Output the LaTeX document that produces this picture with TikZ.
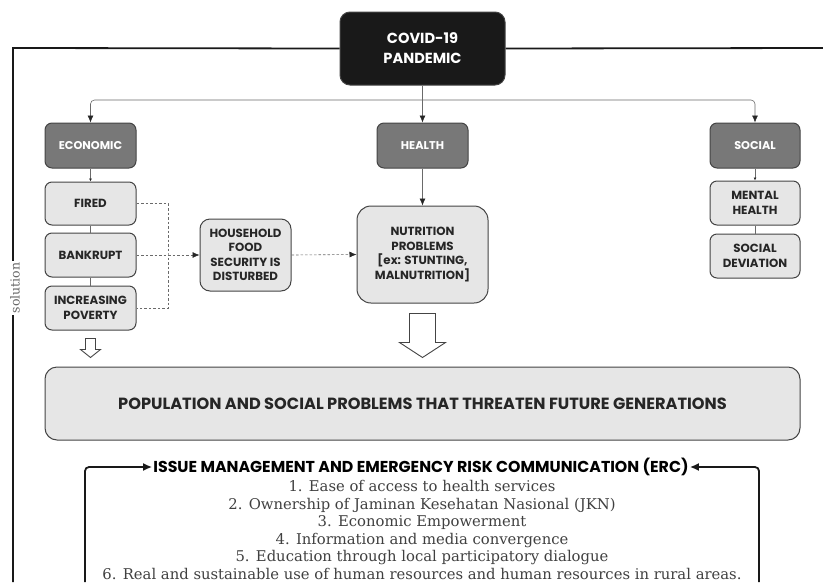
\documentclass[tikz,border=0pt]{standalone}
\usepackage{fontspec}
\usepackage{xcolor}
\usetikzlibrary{arrows.meta, calc}
\newfontfamily\boxfont{Poppins}
\newfontfamily\listfont{DejaVu Serif}
\definecolor{boxline}{HTML}{444444}
\definecolor{catfill}{HTML}{787878}
\definecolor{lightfill}{HTML}{E6E6E6}
\definecolor{linkgray}{HTML}{6A6A6A}

\begin{document}
\begin{tikzpicture}[x=1pt, y=-1pt,
  box/.style={draw=boxline, line width=1pt, rounded corners=7pt, fill=lightfill,
    text=black!85, align=center, inner sep=1pt,
    font=\boxfont\bfseries\fontsize{11.8}{14.4}\selectfont},
  catbox/.style={box, fill=catfill, text=white, font=\boxfont\bfseries\fontsize{11.3}{14}\selectfont},
  link/.style={draw=linkgray, line width=0.6pt},
  dotlink/.style={link, dash pattern=on 2.5pt off 2pt},
  tip/.style={-{Latex[length=7pt, width=6pt, color=black!85]}},
  hollow/.style={draw=boxline, line width=0.9pt, fill=white},
  bigline/.style={draw=black!90, line width=1.8pt}]
\useasboundingbox (0,0) rectangle (823,582);

% top of the chart
\node[box, fill=black!90, text=white, minimum width=165pt, minimum height=73pt,
  rounded corners=10pt, font=\boxfont\bfseries\fontsize{14.6}{20}\selectfont]
  (covid) at (422.5,48.5) {COVID-19\\PANDEMIC};

\node[catbox, minimum width=91pt, minimum height=45pt] (econ) at (90.5,145.5) {ECONOMIC};
\node[catbox, minimum width=91pt, minimum height=45pt] (health) at (422.5,145.5) {HEALTH};
\node[catbox, minimum width=90pt, minimum height=45pt] (social) at (755,145.5) {SOCIAL};

% economic column
\node[box, minimum width=91pt, minimum height=43pt] (fired) at (90.5,203.5) {FIRED};
\node[box, minimum width=91pt, minimum height=44pt] (bankrupt) at (90.5,255) {BANKRUPT};
\node[box, minimum width=91pt, minimum height=44pt] (poverty) at (90.5,308) {INCREASING\\POVERTY};
\node[box, minimum width=91pt, minimum height=72pt, rounded corners=10pt] (food) at (245.5,255)
  {HOUSEHOLD\\FOOD\\SECURITY IS\\DISTURBED};
\node[box, minimum width=131pt, minimum height=97pt, rounded corners=14pt,
  font=\boxfont\bfseries\fontsize{11.8}{14.7}\selectfont] (nutri) at (422.5,254.5)
  {NUTRITION\\PROBLEMS\\{[}ex: STUNTING,\\MALNUTRITION{]}};

% social column
\node[box, minimum width=90pt, minimum height=44pt] (mental) at (755,203) {MENTAL\\HEALTH};
\node[box, minimum width=90pt, minimum height=44pt] (deviation) at (755,256) {SOCIAL\\DEVIATION};

\node[box, minimum width=755pt, minimum height=73pt, rounded corners=12pt,
  font=\boxfont\bfseries\fontsize{16.2}{19}\selectfont] (popu) at (422.5,403.5)
  {POPULATION AND SOCIAL PROBLEMS THAT THREATEN FUTURE GENERATIONS};

% solution part
\node[inner sep=1pt, font=\boxfont\bfseries\fontsize{15.8}{19}\selectfont] (erc) at (421,467)
  {ISSUE MANAGEMENT AND EMERGENCY RISK COMMUNICATION (ERC)};
\node[align=center, inner sep=0pt, text=black!75,
  font=\listfont\fontsize{14.8}{17.6}\selectfont] (steps) at (422,530)
  {1. Ease of access to health services\\
   2. Ownership of Jaminan Kesehatan Nasional (JKN)\\
   3. Economic Empowerment\\
   4. Information and media convergence\\
   5. Education through local participatory dialogue\\
   6. Real and sustainable use of human resources and human resources in rural areas.};

% frame line
\coordinate (frameL) at (13,48);
\coordinate (frameB) at (13,582);
\coordinate (frameR) at (823,48);
\draw[bigline] (covid.west) -- (frameL) -- (frameB);
\draw[bigline] (covid.east) -- (frameR);
\node[fill=white, rotate=90, inner sep=1.5pt, text=black!60,
  font=\listfont\fontsize{12.5}{13}\selectfont] (sol) at (15,288) {solution};

% connectors
\coordinate (split) at (422.5,100);
\draw[link, tip] (covid.south) -- (health.north);
\draw[link, tip, rounded corners=4pt] (split) -| (econ.north);
\draw[link, tip, rounded corners=4pt] (split) -| (social.north);
\draw[link, tip] (health.south) -- (nutri.north);
\draw[link, -{Latex[length=3pt, width=3pt, color=black!85]}] (econ.south) -- (fired.north);
\draw[link, -{Latex[length=3pt, width=3pt, color=black!85]}] (social.south) -- (mental.north);
\draw[link] (fired.south) -- (bankrupt.north);
\draw[link] (bankrupt.south) -- (poverty.north);
\draw[link] (mental.south) -- (deviation.north);

\coordinate (bus) at (168,255);
\draw[dotlink] (fired.east) -| (bus) |- (poverty.east);
\draw[dotlink, tip] (bankrupt.east) -- (food.west);
\draw[dotlink, tip] (food.east) -- (nutri.west);

% hollow arrows
\draw[hollow] ($(poverty.south)+(-5,8)$) -- ++(10,0) -- ++(0,11) -- ++(5,0)
  -- ($(poverty.south)+(0,27)$) -- ++(-10,-8) -- ++(5,0) -- cycle;
\draw[hollow] ($(nutri.south)+(-13,10)$) -- ++(26,0) -- ++(0,29) -- ++(10,0)
  -- ($(nutri.south)+(0,54)$) -- ++(-23,-15) -- ++(10,0) -- cycle;

% ERC feedback
\coordinate (footL) at (85,582);
\coordinate (footR) at (759,582);
\draw[bigline, rounded corners=4pt, -{Latex[length=9pt, width=8pt]}] (footL) |- (erc.west);
\draw[bigline, rounded corners=4pt, -{Latex[length=9pt, width=8pt]}] (footR) |- (erc.east);
\end{tikzpicture}
\end{document}
